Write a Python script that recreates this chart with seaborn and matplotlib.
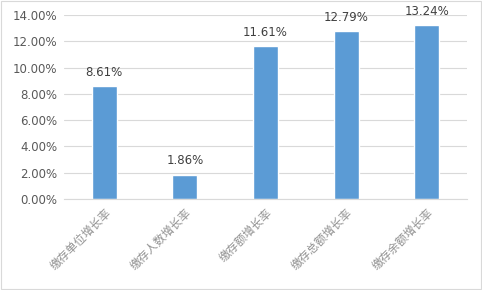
import matplotlib
matplotlib.use("Agg")
import matplotlib.pyplot as plt
import seaborn as sns
import pandas as pd
from matplotlib.ticker import FuncFormatter, MultipleLocator

categories = ["缴存单位增长率", "缴存人数增长率", "缴存额增长率", "缴存总额增长率", "缴存余额增长率"]
values = [8.61, 1.86, 11.61, 12.79, 13.24]

sns.set_style("white")
plt.rcParams['font.family'] = ['DejaVu Sans', 'Noto Sans CJK SC']

df = pd.DataFrame({"cat": categories, "val": values})
fig = plt.figure(figsize=(4.82, 2.90), dpi=100)
ax = fig.add_axes([64/482, 1-199/290, 403/482, 184/290])
sns.barplot(data=df, x="cat", y="val", color="#5B9BD5", width=0.31, saturation=1, ax=ax)
ax.set_ylim(0, 14)
ax.yaxis.set_major_locator(MultipleLocator(2))
ax.yaxis.set_major_formatter(FuncFormatter(lambda v, p: f"{v:.2f}%"))
ax.grid(axis="y", color="#d9d9d9", linewidth=0.8)
ax.set_axisbelow(True)
for s in ["top", "right", "left"]:
    ax.spines[s].set_visible(False)
ax.spines["bottom"].set_color("#d9d9d9")
ax.set_xlabel("")
ax.set_ylabel("")
ax.tick_params(axis="y", length=0, labelsize=8.5, labelcolor="#595959", pad=5)
ax.tick_params(axis="x", length=0, labelsize=8.3, labelcolor="#909090", pad=5)
for lab in ax.get_xticklabels():
    lab.set_rotation(45)
    lab.set_ha("right")
    lab.set_rotation_mode("anchor")
    lab.set_family(['Noto Sans CJK SC', 'DejaVu Sans'])
for i, v in enumerate(values):
    ax.text(i, v + 0.55, f"{v:.2f}%", ha="center", va="bottom", fontsize=8.5, color="#404040")
ax.set_xlim(-0.5, 4.5)
fig.patches.append(plt.Rectangle((0.002, 0.004), 0.996, 0.992, transform=fig.transFigure,
                                 fill=False, edgecolor="#d9d9d9", linewidth=0.8))
fig.savefig("out.png", dpi=100, facecolor="white")
